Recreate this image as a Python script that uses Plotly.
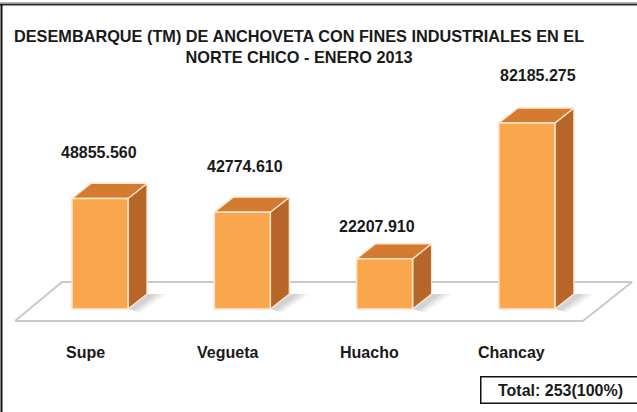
import plotly.graph_objects as go

# Landings of anchovy for industrial use, Norte Chico, January 2013 (TM)
ports = ["Supe", "Vegueta", "Huacho", "Chancay"]
landings = [48855.560, 42774.610, 22207.910, 82185.275]
value_labels = ["48855.560", "42774.610", "22207.910", "82185.275"]
total_label = "Total: 253(100%)"
title_text = "DESEMBARQUE (TM) DE ANCHOVETA CON FINES INDUSTRIALES EN EL<br>NORTE CHICO - ENERO 2013"

W, H = 637, 412

# axis scale: category units on x, tonnes on y
X_RANGE = [-0.7027, 3.7737]
Y_RANGE = [-45515, 136544]
PX_PER_X = W / (X_RANGE[1] - X_RANGE[0])
PX_PER_Y = H / (Y_RANGE[1] - Y_RANGE[0])

# 3D box geometry (half width of the front face, depth offset)
HALF_W = 28 / PX_PER_X
DEPTH_X = 19 / PX_PER_X
DEPTH_Y = 15 / PX_PER_Y

FRONT = "#F9A64C"
TOP = "#D47A31"
SIDE = "#B8652A"
EDGE = "#FDE6CC"

# floor parallelogram (category units / tonnes)
floor_front_y, floor_back_y = -5303, 11931
floor_x = [-0.597, 3.394, 3.739, -0.267]

# label placement tweaks (px)
label_dx = [-1, 3, -8, 11]
label_dy = [31, 31, 17, 33]

fig = go.Figure()


def poly(xs, ys, fill, line_color=EDGE, width=1.3, opacity=1.0):
    fig.add_trace(go.Scatter(
        x=xs + [xs[0]], y=ys + [ys[0]], mode="lines", fill="toself",
        fillcolor=fill, line=dict(color=line_color, width=width),
        opacity=opacity, hoverinfo="skip", showlegend=False))


# floor
poly(floor_x, [floor_front_y, floor_front_y, floor_back_y, floor_back_y],
     "white", line_color="#C9C9C9", width=2)

# soft shadows cast on the floor
for i, v in enumerate(landings):
    xr = i + HALF_W
    for k, a in enumerate([0.05, 0.06, 0.07]):
        ext = (20 - 5 * k) / PX_PER_X
        poly([xr, xr + DEPTH_X, xr + DEPTH_X + ext, xr + ext * 0.6],
             [0, DEPTH_Y, DEPTH_Y, -1500 + 300 * k],
             "rgba(0,0,0,%.2f)" % a, line_color="rgba(0,0,0,0)", width=0)

# bars
for i, v in enumerate(landings):
    xl, xr = i - HALF_W, i + HALF_W
    poly([xr, xr + DEPTH_X, xr + DEPTH_X, xr], [0, DEPTH_Y, v + DEPTH_Y, v], SIDE)
    poly([xl, xr, xr + DEPTH_X, xl + DEPTH_X], [v, v, v + DEPTH_Y, v + DEPTH_Y], TOP)
    poly([xl, xr, xr, xl], [0, 0, v, v], FRONT, width=1.6)

annotations = []
# value labels
for i, (v, t) in enumerate(zip(landings, value_labels)):
    annotations.append(dict(
        x=i, y=v + DEPTH_Y, text="<b>%s</b>" % t, showarrow=False,
        xanchor="center", yanchor="middle", xshift=label_dx[i], yshift=label_dy[i],
        font=dict(family="Liberation Sans, Arial", size=16, color="#1A1A1A")))

# category labels
for i, p in enumerate(ports):
    annotations.append(dict(
        x=i, y=floor_front_y, text="<b>%s</b>" % p, showarrow=False,
        xanchor="center", yanchor="middle", xshift=-15, yshift=-31,
        font=dict(family="Liberation Sans, Arial", size=16, color="#1A1A1A")))

# title
annotations.append(dict(
    x=298.5 / W, y=1 - 46.5 / H, xref="paper", yref="paper", text="<b>%s</b>" % title_text,
    showarrow=False, xanchor="center", yanchor="middle", align="center",
    font=dict(family="Liberation Sans, Arial", size=16.3, color="#1A1A1A")))

# total box
annotations.append(dict(
    x=560 / W, y=1 - 390 / H, xref="paper", yref="paper", text="<b>%s</b>" % total_label,
    showarrow=False, xanchor="center", yanchor="middle",
    bordercolor="#111111", borderwidth=1.5, borderpad=3, bgcolor="white",
    width=152, height=19,
    font=dict(family="Liberation Sans, Arial", size=16, color="#1A1A1A")))

shapes = [
    # outer frame: top rule and left rule
    dict(type="line", xref="paper", yref="paper", x0=0, x1=1, y0=1 - 4.5 / H, y1=1 - 4.5 / H,
         line=dict(color="#2B2B2B", width=2)),
    dict(type="line", xref="paper", yref="paper", x0=0, x1=1, y0=1 - 2.5 / H, y1=1 - 2.5 / H,
         line=dict(color="#BBBBBB", width=1)),
    dict(type="line", xref="paper", yref="paper", x0=1.5 / W, x1=1.5 / W, y0=0, y1=1 - 4.5 / H,
         line=dict(color="#111111", width=2)),
]

fig.update_layout(
    width=W, height=H, margin=dict(l=0, r=0, t=0, b=0),
    paper_bgcolor="white", plot_bgcolor="white",
    xaxis=dict(range=X_RANGE, visible=False, fixedrange=True),
    yaxis=dict(range=Y_RANGE, visible=False, fixedrange=True),
    annotations=annotations, shapes=shapes, showlegend=False,
)

fig.write_html("out.html")
